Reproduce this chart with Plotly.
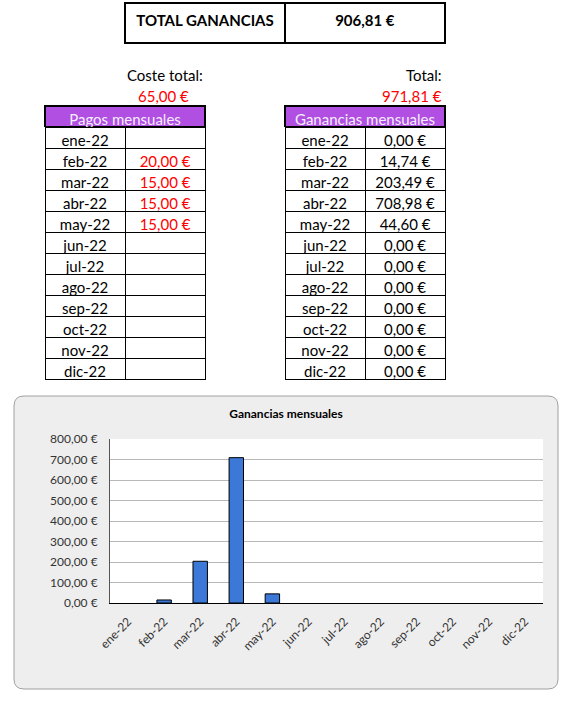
import plotly.graph_objects as go

W, H = 574, 701

# data
meses = ["ene-22", "feb-22", "mar-22", "abr-22", "may-22", "jun-22",
         "jul-22", "ago-22", "sep-22", "oct-22", "nov-22", "dic-22"]
pagos = [None, 20.00, 15.00, 15.00, 15.00, None, None, None, None, None, None, None]
ganancias = [0.00, 14.74, 203.49, 708.98, 44.60, 0.00, 0.00, 0.00, 0.00, 0.00, 0.00, 0.00]
coste_total = 65.00
total = 971.81
total_ganancias = 906.81

y_ticks = [0, 100, 200, 300, 400, 500, 600, 700, 800]
y_ticktext = ["0,00 €", "100,00 €", "200,00 €", "300,00 €", "400,00 €",
              "500,00 €", "600,00 €", "700,00 €", "800,00 €"]

FONT = "Lato, Carlito, Calibri, sans-serif"
PURPLE = "#b04fe2"
RED = "#ff0000"


def eur(v):
    if v is None:
        return ""
    s = "{:,.2f}".format(v).replace(",", "X").replace(".", ",").replace("X", ".")
    return s + " €"


def px(x):
    return x / W


def py(y):
    return 1 - y / H


fig = go.Figure()

# top box TOTAL GANANCIAS
fig.add_trace(go.Table(
    domain=dict(x=[px(125), px(445)], y=[py(46), py(3)]),
    columnwidth=[1, 1],
    header=dict(values=["<b>TOTAL GANANCIAS</b>", "<b>" + eur(total_ganancias) + "</b>"],
                height=40, align="center",
                line=dict(color="black", width=2), fill=dict(color="white"),
                font=dict(family=FONT, size=15, color="black")),
    cells=dict(values=[[], []]),
))

# purple headers
for x0, x1, title in [(45, 205, "Pagos mensuales"), (285, 445, "Ganancias mensuales")]:
    fig.add_trace(go.Table(
        domain=dict(x=[px(x0), px(x1)], y=[py(128), py(106)]),
        header=dict(values=[title], height=21, align="center",
                    line=dict(color="black", width=2), fill=dict(color=PURPLE),
                    font=dict(family=FONT, size=15, color="#f4eefc")),
        cells=dict(values=[[]]),
    ))


# monthly tables (first month row goes in the table header slot)
def month_table(x0, x1, col2, col2_color):
    style = dict(height=21, align="center", line=dict(color="black", width=1),
                 fill=dict(color="white"),
                 font=dict(family=FONT, size=15, color=["black", col2_color]))
    return go.Table(
        domain=dict(x=[px(x0), px(x1)], y=[py(384), py(127)]),
        header=dict(values=[meses[0], col2[0]], **style),
        cells=dict(values=[meses[1:], col2[1:]], **style),
    )


fig.add_trace(month_table(45, 205, [eur(p) for p in pagos], RED))
fig.add_trace(month_table(285, 445, [eur(g) for g in ganancias], "black"))

# bar chart
fig.add_trace(go.Bar(
    x=meses, y=ganancias, width=0.4,
    marker=dict(color="#3c78d8",
                line=dict(color="black", width=[1 if g > 0 else 0 for g in ganancias])),
    showlegend=False, hoverinfo="x+y",
))

# chart background with rounded corners
x0, x1, y0, y1 = px(14), px(558), py(689), py(396)
rx, ry = 10 / W, 10 / H
path = (f"M {x0+rx},{y0} L {x1-rx},{y0} Q {x1},{y0} {x1},{y0+ry} "
        f"L {x1},{y1-ry} Q {x1},{y1} {x1-rx},{y1} L {x0+rx},{y1} "
        f"Q {x0},{y1} {x0},{y1-ry} L {x0},{y0+ry} Q {x0},{y0} {x0+rx},{y0} Z")
fig.add_shape(type="path", path=path, xref="paper", yref="paper", layer="below",
              fillcolor="#eeeeee", line=dict(color="#a0a0a0", width=1))
fig.add_shape(type="rect", xref="x domain", yref="y domain", x0=0, x1=1, y0=0, y1=1,
              layer="below", fillcolor="white", line=dict(width=0))

annotations = [
    dict(text="Coste total:", x=px(205), y=py(75), xanchor="right"),
    dict(text=eur(coste_total), x=px(191), y=py(96), xanchor="right", font=dict(color=RED)),
    dict(text="Total:", x=px(444), y=py(75), xanchor="right"),
    dict(text=eur(total), x=px(444), y=py(96), xanchor="right", font=dict(color=RED)),
]
for a in annotations:
    a.update(xref="paper", yref="paper", yanchor="middle", showarrow=False)
    f = dict(family=FONT, size=15, color="black")
    f.update(a.get("font", {}))
    a["font"] = f
    fig.add_annotation(**a)

fig.update_layout(
    width=W, height=H,
    margin=dict(l=0, r=0, t=0, b=0, pad=0, autoexpand=False),
    showlegend=False,
    paper_bgcolor="white", plot_bgcolor="white",
    title=dict(text="<b>Ganancias mensuales</b>", x=px(286), y=py(414),
               xanchor="center", yanchor="middle",
               font=dict(family=FONT, size=12, color="black")),
    xaxis=dict(domain=[px(110), px(543)], tickangle=-45, showline=True,
               linecolor="black", linewidth=1, ticks="", automargin=False,
               ticklabelstandoff=6,
               tickfont=dict(family=FONT, size=12, color="#333333")),
    yaxis=dict(domain=[py(603), py(439)], range=[0, 800], tickvals=y_ticks,
               ticktext=y_ticktext, showgrid=True, gridcolor="#b8b8b8",
               zeroline=False, showline=True, linecolor="#555555", linewidth=1,
               automargin=False, ticklabelstandoff=9,
               tickfont=dict(family=FONT, size=12, color="#333333")),
    bargap=0.6,
)

fig.write_html("out.html", config={"displayModeBar": False},
               post_script="document.body.style.margin='0';")
